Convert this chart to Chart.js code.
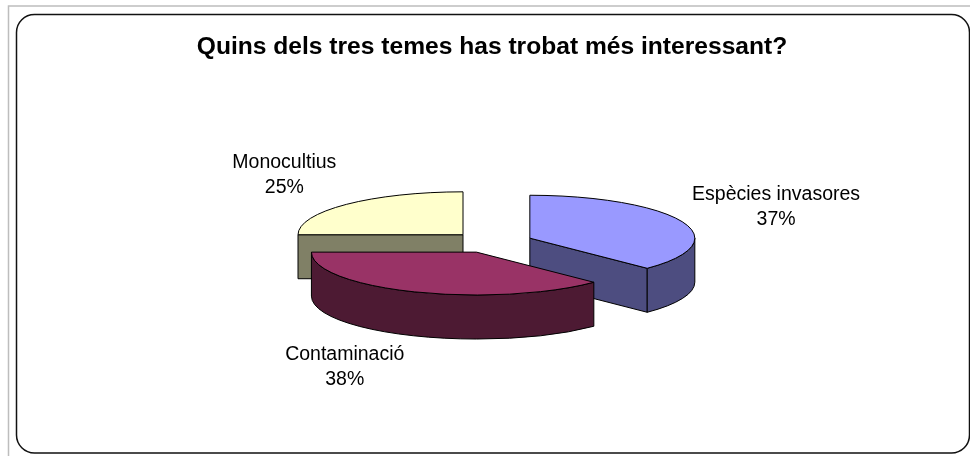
<!DOCTYPE html>
<html><head><meta charset="utf-8">
<script src="https://cdn.jsdelivr.net/npm/chart.js@4.4.1/dist/chart.umd.min.js"></script>
<style>html,body{margin:0;padding:0;background:#fff;overflow:hidden}canvas{display:block}</style>
</head><body>
<canvas id="c" width="970" height="456"></canvas>
<script>
// ---- data ----
const categories = ['Espècies invasores', 'Contaminació', 'Monocultius'];
const values = [37.4, 37.6, 25];
const titleText = 'Quins dels tres temes has trobat més interessant?';

// ---- styles / layout ----
const topColors = ['#9999FF', '#993366', '#FFFFCC'];
const sideColors = ['#4D4D80', '#4D1A33', '#808066'];
const TILT = 0.26, DEPTH = 44, EXPLODE = 41;
const LABEL_OFFSETS = [[94, -22], [-69, 68], [-62, -36]];
const FONT = '"Liberation Sans", Arial, sans-serif';

const total = values.reduce((a, b) => a + b, 0);
const percentLabels = values.map(v => Math.round(v / total * 100) + '%');

function geom(arc) {
  const p = arc.getProps(['x', 'y', 'startAngle', 'endAngle', 'outerRadius'], true);
  const mid = (p.startAngle + p.endAngle) / 2;
  const ex = Math.cos(mid) * EXPLODE, ey = Math.sin(mid) * EXPLODE;
  return { p, mid, ex, ey, X: p.x + ex, Y: p.y + ey * TILT, R: p.outerRadius, ry: p.outerRadius * TILT };
}

function drawSides(ctx, g, i) {
  const { p, X, Y, R, ry } = g;
  const a0 = p.startAngle, a1 = p.endAngle;
  const faces = [];
  if (Math.cos(a0) < -1e-6) faces.push(['rad', a0]);
  if (Math.cos(a1) > 1e-6) faces.push(['rad', a1]);
  for (const k of [-1, 0, 1]) {
    const lo = Math.max(a0, k * 2 * Math.PI), hi = Math.min(a1, k * 2 * Math.PI + Math.PI);
    if (hi > lo) faces.push(['rim', lo, hi]);
  }
  ctx.save();
  ctx.fillStyle = sideColors[i];
  ctx.strokeStyle = '#000';
  ctx.lineWidth = 1;
  ctx.lineJoin = 'round';
  for (const f of faces) {
    ctx.beginPath();
    if (f[0] === 'rad') {
      const rx = X + R * Math.cos(f[1]), rY = Y + ry * Math.sin(f[1]);
      ctx.moveTo(X, Y); ctx.lineTo(rx, rY); ctx.lineTo(rx, rY + DEPTH); ctx.lineTo(X, Y + DEPTH);
      ctx.closePath();
    } else {
      ctx.ellipse(X, Y, R, ry, 0, f[1], f[2]);
      ctx.ellipse(X, Y + DEPTH, R, ry, 0, f[2], f[1], true);
      ctx.closePath();
    }
    ctx.fill(); ctx.stroke();
  }
  ctx.restore();
}

function drawTop(ctx, arc, g, i) {
  const { p, ex, ey } = g;
  const orig = arc.options;
  arc.options = Object.assign({}, orig, { offset: 0, borderWidth: 0, backgroundColor: topColors[i] });
  ctx.save();
  ctx.translate(0, p.y); ctx.scale(1, TILT); ctx.translate(ex, ey - p.y);
  arc.draw(ctx);
  ctx.beginPath();
  ctx.moveTo(p.x, p.y);
  ctx.arc(p.x, p.y, p.outerRadius, p.startAngle, p.endAngle);
  ctx.closePath();
  ctx.restore();
  ctx.save();
  ctx.strokeStyle = '#000'; ctx.lineWidth = 1; ctx.lineJoin = 'round';
  ctx.stroke();
  ctx.restore();
  arc.options = orig;
}

function roundRectPath(ctx, x, y, w, h, r) {
  ctx.beginPath();
  ctx.moveTo(x + r, y);
  ctx.lineTo(x + w - r, y); ctx.arcTo(x + w, y, x + w, y + r, r);
  ctx.lineTo(x + w, y + h - r); ctx.arcTo(x + w, y + h, x + w - r, y + h, r);
  ctx.lineTo(x + r, y + h); ctx.arcTo(x, y + h, x, y + h - r, r);
  ctx.lineTo(x, y + r); ctx.arcTo(x, y, x + r, y, r);
  ctx.closePath();
}

const pie3d = {
  id: 'pie3d',
  beforeDraw(chart) {
    const ctx = chart.ctx, w = chart.width, h = chart.height;
    ctx.save();
    ctx.fillStyle = '#fff'; ctx.fillRect(0, 0, w, h);
    ctx.strokeStyle = '#BDBDBD'; ctx.lineWidth = 1.5;
    ctx.beginPath(); ctx.moveTo(8.5, h); ctx.lineTo(8.5, 6); ctx.lineTo(w, 6); ctx.stroke();
    ctx.strokeStyle = '#111'; ctx.lineWidth = 1.5;
    roundRectPath(ctx, 16.5, 14.5, 953, 438.5, 18);
    ctx.stroke();
    ctx.restore();
  },
  beforeDatasetsDraw(chart) {
    const ctx = chart.ctx;
    const meta = chart.getDatasetMeta(0);
    const items = meta.data.map((arc, i) => ({ arc, i, g: geom(arc) }));
    items.sort((a, b) => a.g.Y - b.g.Y);
    for (const it of items) {
      drawSides(ctx, it.g, it.i);
      drawTop(ctx, it.arc, it.g, it.i);
    }
    return false;
  },
  afterDraw(chart) {
    const ctx = chart.ctx;
    const meta = chart.getDatasetMeta(0);
    ctx.save();
    ctx.font = '19.5px ' + FONT;
    ctx.fillStyle = '#000';
    ctx.textAlign = 'center';
    ctx.textBaseline = 'alphabetic';
    meta.data.forEach((arc, i) => {
      const g = geom(arc);
      const rimX = g.X + g.R * Math.cos(g.mid);
      const rimY = g.Y + g.ry * Math.sin(g.mid);
      const [dx, dy] = LABEL_OFFSETS[i];
      ctx.fillText(categories[i], rimX + dx, rimY + dy);
      ctx.fillText(percentLabels[i], rimX + dx, rimY + dy + 25);
    });
    ctx.restore();
  }
};

new Chart(document.getElementById('c'), {
  type: 'pie',
  data: {
    labels: categories,
    datasets: [{ data: values, backgroundColor: topColors, borderWidth: 0 }]
  },
  options: {
    responsive: false,
    animation: false,
    devicePixelRatio: 1,
    events: [],
    radius: 165,
    layout: { padding: { left: 14, right: 0, top: 0, bottom: 43 } },
    plugins: {
      legend: { display: false },
      tooltip: { enabled: false },
      title: {
        display: true,
        text: titleText,
        color: '#000',
        font: { family: FONT, size: 24.6, weight: 'bold' },
        padding: { top: 32, bottom: 10 }
      }
    }
  },
  plugins: [pie3d]
});
</script>
</body></html>
